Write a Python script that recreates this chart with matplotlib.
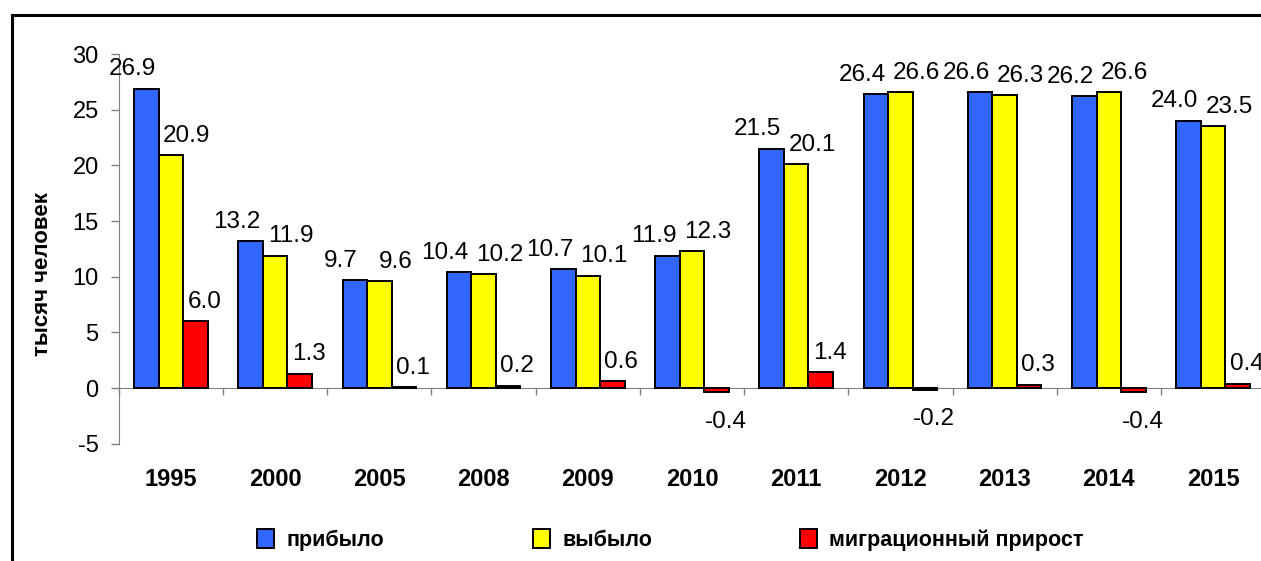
import numpy as np
import matplotlib
matplotlib.use("Agg")
import matplotlib.pyplot as plt
from matplotlib.lines import Line2D
from matplotlib.patches import Patch
from matplotlib.transforms import blended_transform_factory

plt.rcParams['font.family'] = ['Liberation Sans', 'DejaVu Sans']
plt.rcParams['axes.unicode_minus'] = False

years = ['1995', '2000', '2005', '2008', '2009', '2010', '2011', '2012', '2013', '2014', '2015']
arrived = [26.9, 13.2, 9.7, 10.4, 10.7, 11.9, 21.5, 26.4, 26.6, 26.2, 24.0]
departed = [20.9, 11.9, 9.6, 10.2, 10.1, 12.3, 20.1, 26.6, 26.3, 26.6, 23.5]
migration = [6.0, 1.3, 0.1, 0.2, 0.6, -0.4, 1.4, -0.2, 0.3, -0.4, 0.4]
series_names = ['прибыло', 'выбыло', 'миграционный прирост']
y_ticks = [-5, 0, 5, 10, 15, 20, 25, 30]
y_label = 'тысяч человек'

W, H = 1261, 561
fig = plt.figure(figsize=(W / 100, H / 100), dpi=100)
ax_l, ax_r, ax_t, ax_b = 118.8, 1265.2, 54.0, 443.7
ax = fig.add_axes([ax_l / W, 1 - ax_b / H, (ax_r - ax_l) / W, (ax_b - ax_t) / H])

colors = ['#3366FF', '#FFFF00', '#FF0000']
x = np.arange(len(years))
w = 0.235
offsets = [-w, 0, w]
label_dx = [-10, 11.5, 6.5]
datasets = [arrived, departed, migration]

for data, off, col, dx in zip(datasets, offsets, colors, label_dx):
    ax.bar(x + off, data, w, color=col, edgecolor='black', linewidth=1.4, zorder=3)
    for xi, v in zip(x, data):
        if v >= 0:
            ax.annotate(f'{v:.1f}', (xi + off, v), xytext=(dx, 9.6), textcoords='offset points',
                        ha='center', va='baseline', fontsize=17.5, color='black', zorder=4)
        else:
            ax.annotate(f'{v:.1f}', (xi + off, v), xytext=(dx, -13), textcoords='offset points',
                        ha='center', va='top', fontsize=17.5, color='black', zorder=4)

ax.set_xlim(-0.5, len(years) - 0.5)
ax.set_ylim(-5, 30)
ax.set_yticks(y_ticks)
ax.tick_params(axis='y', labelsize=17, length=6, width=1, color='#808080', pad=8.5, direction='out')
ax.set_xticks(np.arange(-0.5, len(years), 1))
ax.set_xticklabels([])
ax.tick_params(axis='x', length=5, width=1, color='#808080', direction='out')

for s in ['top', 'right']:
    ax.spines[s].set_visible(False)
ax.spines['left'].set_color('#808080')
ax.spines['bottom'].set_color('#808080')
ax.spines['bottom'].set_position(('data', 0))
ax.spines['bottom'].set_zorder(2)

trans = blended_transform_factory(ax.transData, ax.transAxes)
for xi, yr in zip(x, years):
    ax.text(xi, -0.093, yr, transform=trans, ha='center', va='center',
            fontsize=17, fontweight='bold')

fig.text(43 / W, 1 - 274 / H, y_label, rotation=90, ha='center', va='center',
         fontsize=16, fontweight='bold')

# legend entries
leg_x = [257, 533, 800]
for name, col, lx in zip(series_names, colors, leg_x):
    fig.legend(handles=[Patch(facecolor=col, edgecolor='black', linewidth=1.4)], labels=[name],
               loc='center left', bbox_to_anchor=(lx / W, 1 - 540 / H), frameon=False,
               borderaxespad=0, borderpad=0, handlelength=0.8, handleheight=0.95,
               handletextpad=0.55, prop={'size': 15.5, 'weight': 'bold'})

# outer frame
frame = Line2D([12 / W, 12 / W, 1.02], [-0.02, 1 - 15 / H, 1 - 15 / H], transform=fig.transFigure,
               color='black', linewidth=2.2, solid_joinstyle='miter')
fig.add_artist(frame)

fig.savefig('out.png', dpi=100)
